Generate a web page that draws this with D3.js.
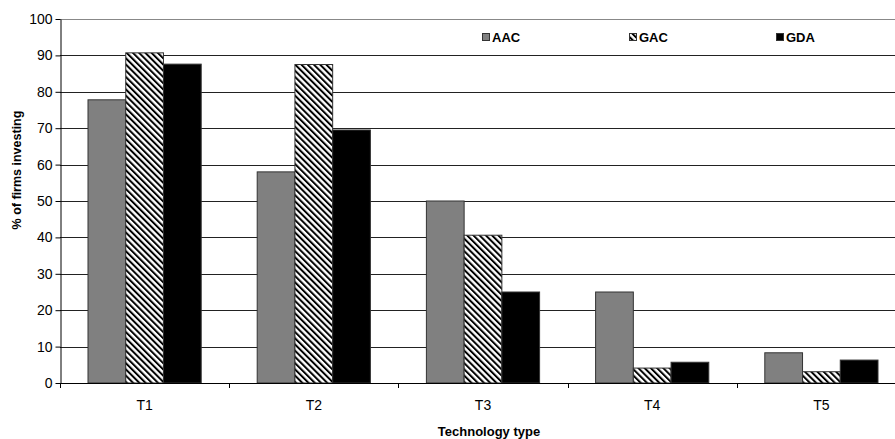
<!DOCTYPE html>
<html>
<head>
<meta charset="utf-8">
<script src="https://cdn.jsdelivr.net/npm/d3@7"></script>
<style>
  body { margin: 0; background: #fff; }
  text { font-family: "Liberation Sans", Arial, sans-serif; }
</style>
</head>
<body>
<svg id="chart" width="895" height="439"></svg>
<script>
// data
let categories = ["T1", "T2", "T3", "T4", "T5"]
let seriesNames = ["AAC", "GAC", "GDA"]
let aac = [77.8, 58, 50, 25, 8.3]
let gac = [90.7, 87.5, 40.6, 4.1, 3.1]
let gda = [87.6, 69.5, 25, 5.7, 6.3]
let yTicks = [0, 10, 20, 30, 40, 50, 60, 70, 80, 90, 100]

let values = [aac, gac, gda]
let margin = { left: 60, top: 19, bottom: 56 }
let width = 895, height = 439
let plotBottom = height - margin.bottom

let svg = d3.select('#chart')

let defs = svg.append("defs")
let pat = defs.append("pattern")
    .attr("id", "hatch")
    .attr("patternUnits", "userSpaceOnUse")
    .attr("width", 4.4)
    .attr("height", 4.4)
    .attr("patternTransform", "rotate(-45)")
pat.append("rect").attr("width", 4.4).attr("height", 4.4).attr("fill", "#fff")
pat.append("rect").attr("width", 2.0).attr("height", 4.4).attr("fill", "#000")

let fills = ["#808080", "url(#hatch)", "#000"]

let x = d3.scaleBand()
    .domain(categories)
    .range([margin.left, margin.left + 5 * 169.2])
    .paddingInner(0)
    .paddingOuter(0)

let xSub = d3.scaleBand()
    .domain(seriesNames)
    .range([28, x.bandwidth() - 28])

let y = d3.scaleLinear()
    .domain([0, 100])
    .range([plotBottom, margin.top])

// grid lines
svg.append("g")
    .selectAll("line")
    .data(yTicks.filter(d => d > 0))
    .join("line")
    .attr("x1", margin.left)
    .attr("x2", width)
    .attr("y1", d => Math.round(y(d)) + 0.5)
    .attr("y2", d => Math.round(y(d)) + 0.5)
    .attr("stroke", d => d == 100 ? "#888" : "#222")
    .attr("stroke-width", 1)

// bars
let groups = svg.append("g")
    .selectAll("g")
    .data(categories)
    .join("g")
    .attr("transform", d => "translate(" + x(d) + ",0)")

groups.selectAll("rect")
    .data((c, i) => seriesNames.map((s, j) => ({ s: s, j: j, v: values[j][i] })))
    .join("rect")
    .attr("x", d => xSub(d.s))
    .attr("width", xSub.bandwidth())
    .attr("y", d => y(d.v))
    .attr("height", d => plotBottom - y(d.v))
    .attr("fill", d => fills[d.j])
    .attr("stroke", "#333")
    .attr("stroke-width", 1)

// y axis
let yAxis = svg.append("g")
    .attr("transform", "translate(" + (margin.left + 0.5) + ",0)")
    .call(d3.axisLeft(y).tickValues(yTicks).tickSize(5).tickPadding(3).tickSizeOuter(0))
yAxis.select(".domain").attr("stroke", "#000")
yAxis.selectAll(".tick line").attr("stroke", "#000")
yAxis.selectAll("text").style("font-size", "14px").attr("fill", "#000")

// x axis
let boundaries = categories.map((c, i) => x(c)).concat([x.range()[1]])
let xAxisG = svg.append("g")
xAxisG.append("line")
    .attr("x1", margin.left)
    .attr("x2", width)
    .attr("y1", plotBottom + 0.5)
    .attr("y2", plotBottom + 0.5)
    .attr("stroke", "#000")
xAxisG.selectAll(".xtick")
    .data(boundaries)
    .join("line")
    .attr("class", "xtick")
    .attr("x1", d => Math.round(d) + 0.5)
    .attr("x2", d => Math.round(d) + 0.5)
    .attr("y1", plotBottom)
    .attr("y2", plotBottom + 5)
    .attr("stroke", "#000")
xAxisG.selectAll(".xlabel")
    .data(categories)
    .join("text")
    .attr("class", "xlabel")
    .attr("x", d => x(d) + x.bandwidth() / 2)
    .attr("y", plotBottom + 27)
    .attr("text-anchor", "middle")
    .style("font-size", "14px")
    .text(d => d)

// axis titles
svg.append("text")
    .attr("x", 489)
    .attr("y", 436)
    .attr("text-anchor", "middle")
    .style("font-size", "13px")
    .style("font-weight", "bold")
    .text("Technology type")

svg.append("text")
    .attr("transform", "translate(21,170) rotate(-90)")
    .attr("text-anchor", "middle")
    .style("font-size", "12.5px")
    .style("font-weight", "bold")
    .text("% of firms investing")

// legend
let legendX = [482, 629, 776]
let legend = svg.append("g")
for (let i = 0; i < seriesNames.length; i++) {
    legend.append("rect")
        .attr("x", legendX[i] + 0.5)
        .attr("y", 33.5)
        .attr("width", 7)
        .attr("height", 7)
        .attr("fill", fills[i])
        .attr("stroke", "#333")
    legend.append("text")
        .attr("x", legendX[i] + 10)
        .attr("y", 42)
        .style("font-size", "13px")
        .style("font-weight", "bold")
        .text(seriesNames[i])
}
</script>
</body>
</html>
